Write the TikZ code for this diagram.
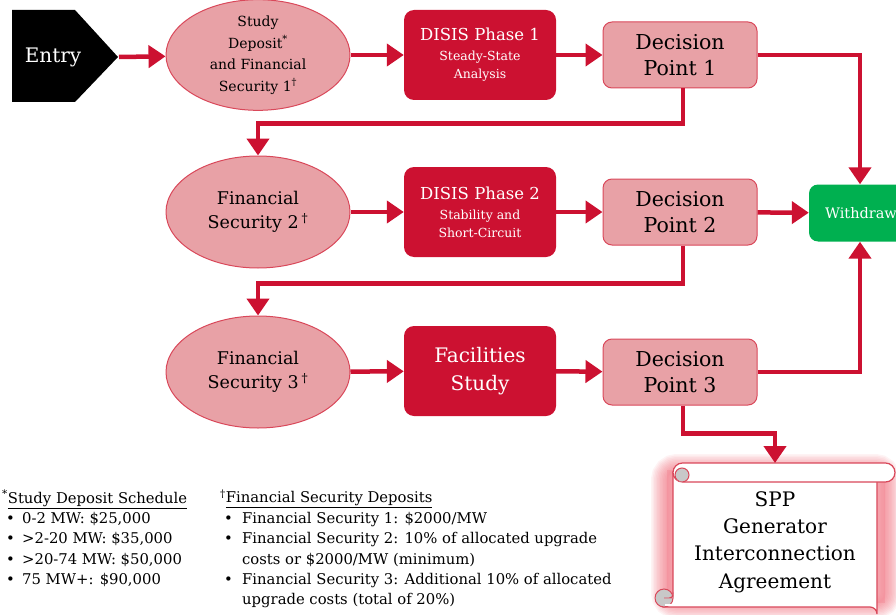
\documentclass[tikz,border=0pt]{standalone}
\usepackage{fontspec}
\setmainfont{DejaVu Serif}
\usetikzlibrary{arrows.meta,shapes.geometric}
\definecolor{dred}{HTML}{CC1131}
\definecolor{pinkf}{HTML}{E8A1A6}
\definecolor{pinkd}{HTML}{D9485A}
\definecolor{grn}{HTML}{00B050}
\definecolor{glowc}{HTML}{EE5A6A}
\definecolor{curl}{HTML}{C8C8C8}
\begin{document}
\begin{tikzpicture}[x=1pt,y=-1pt,
 flow/.style={draw=dred, line width=4.5pt, -{Triangle[length=17pt,width=22pt]}},
 ell/.style={ellipse, draw=pinkd, fill=pinkf, line width=1pt, minimum width=184pt, minimum height=108pt, align=center, inner sep=0pt},
 phase/.style={rounded corners=10pt, fill=dred, text=white, minimum width=152pt, minimum height=90pt, align=center, font=\fontsize{12.5}{18}\selectfont},
 decision/.style={rounded corners=9pt, draw=pinkd, fill=pinkf, line width=1pt, minimum width=154pt, minimum height=66pt, align=center, font=\fontsize{20.5}{26}\selectfont},
 foot/.style={anchor=north west, align=left, inner sep=0pt, font=\fontsize{14.8}{20.4}\selectfont},
]
\useasboundingbox (0,0) rectangle (896,615);
% Entry
\fill[black] (12,10) -- (75,10) -- (118,57) -- (75,102) -- (12,102) -- cycle;
\node[text=white, font=\fontsize{20}{24}\selectfont] (entry) at (53,57) {Entry};
\coordinate (entrytip) at (119,57);
% Row 1
\node[ell, font=\fontsize{14}{21.5}\selectfont] (e1) at (258,55) {Study\\Deposit\textsuperscript{*}\\and Financial\\Security 1\textsuperscript{\textdagger}};
\node[phase] (p1) at (480,55) {{\fontsize{16.5}{20}\selectfont DISIS Phase 1}\\[2pt]Steady-State\\Analysis};
\node[decision] (dp1) at (680,55) {Decision\\Point 1};
% Row 2
\node[ell, minimum height=112pt, font=\fontsize{17.5}{24}\selectfont] (e2) at (258,212) {Financial\\Security 2\,\textsuperscript{\textdagger}};
\node[phase] (p2) at (480,212) {{\fontsize{16.5}{20}\selectfont DISIS Phase 2}\\[2pt]Stability and\\Short-Circuit};
\node[decision] (dp2) at (680,212) {Decision\\Point 2};
\node[rounded corners=9pt, fill=grn, text=white, minimum width=104pt, minimum height=57pt, font=\fontsize{14.5}{18}\selectfont] (wd) at (861,213) {Withdraw};
% Row 3
\node[ell, minimum height=112pt, font=\fontsize{17.5}{24}\selectfont] (e3) at (258,372) {Financial\\Security 3\,\textsuperscript{\textdagger}};
\node[phase, font=\fontsize{20}{28}\selectfont] (fs) at (480,371) {Facilities\\Study};
\node[decision] (dp3) at (680,372) {Decision\\Point 3};
% connectors
\draw[flow] (entrytip) -- (e1);
\draw[flow] (e1) -- (p1);
\draw[flow] (p1) -- (dp1);
\draw[flow] (e2) -- (p2);
\draw[flow] (p2) -- (dp2);
\draw[flow] (dp2) -- (wd);
\draw[flow] (e3) -- (fs);
\draw[flow] (fs) -- (dp3);
\draw[flow] (dp1.east) -| ([xshift=-1pt]wd.north);
\draw[flow] (dp3.east) -| ([xshift=-1pt]wd.south);
\draw[flow] ([xshift=3pt]dp1.south) -- ++(0,35) -| (e2.north);
\draw[flow] ([xshift=3pt]dp2.south) -- ++(0,38) -| (e3.north);
% scroll glow
\foreach \w in {32,29,...,2} {
  \draw[glowc, line width=\w pt, opacity=0.075, rounded corners=10pt] (667,470) rectangle (885,603);
}
\fill[glowc!70, opacity=0.5] (667,470) rectangle (885,603);
% scroll body
\filldraw[fill=white, draw=pinkd, line width=1.2pt] (673,472) -- (673,596) -- (663,598) -- (663,607) -- (870,607) arc[start angle=90, end angle=0, radius=7pt] -- (877,482) -- (877,472) -- cycle;
% bottom curl
\filldraw[fill=curl, draw=pinkd, line width=1pt] (664,598) circle[radius=9pt];
\filldraw[fill=white, draw=pinkd, line width=0.8pt] (664,598) -- (673,598) -- (673,594) arc[start angle=0, end angle=-90, radius=4pt] -- cycle;
\fill[white] (664.5,604) rectangle (674,606.4);
% top roll
\filldraw[fill=white, draw=pinkd, line width=1.2pt, rounded corners=9.5pt] (673,463) rectangle (895,482);
\begin{scope}
  \clip (673,463) [rounded corners=9.5pt] rectangle (740,482);
  \filldraw[fill=curl, draw=pinkd, line width=1pt] (682,475) circle[radius=7pt];
\end{scope}
\coordinate (scrolltop) at (775,463);
\node[align=center, font=\fontsize{20}{27.3}\selectfont] (sga) at (775,542) {SPP\\Generator\\Interconnection\\Agreement};
\draw[flow] ([xshift=3pt]dp3.south) -- ++(0,28) -| (scrolltop);
% footnotes
\node[foot] (fn1) at (2,490) {\textsuperscript{*}\underline{Study Deposit Schedule}\\
\makebox[20pt][l]{\hspace{4pt}\textbullet}0-2 MW: \$25,000\\
\makebox[20pt][l]{\hspace{4pt}\textbullet}>2-20 MW: \$35,000\\
\makebox[20pt][l]{\hspace{4pt}\textbullet}>20-74 MW: \$50,000\\
\makebox[20pt][l]{\hspace{4pt}\textbullet}75 MW+: \$90,000};
\node[foot] (fn2) at (220,490) {\textsuperscript{\textdagger}\underline{Financial Security Deposits}\\
\makebox[22pt][l]{\hspace{4pt}\textbullet}Financial Security 1: \$2000/MW\\
\makebox[22pt][l]{\hspace{4pt}\textbullet}Financial Security 2: 10\% of allocated upgrade\\
\hspace*{22pt}costs or \$2000/MW (minimum)\\
\makebox[22pt][l]{\hspace{4pt}\textbullet}Financial Security 3: Additional 10\% of allocated\\
\hspace*{22pt}upgrade costs (total of 20\%)};
\end{tikzpicture}
\end{document}
